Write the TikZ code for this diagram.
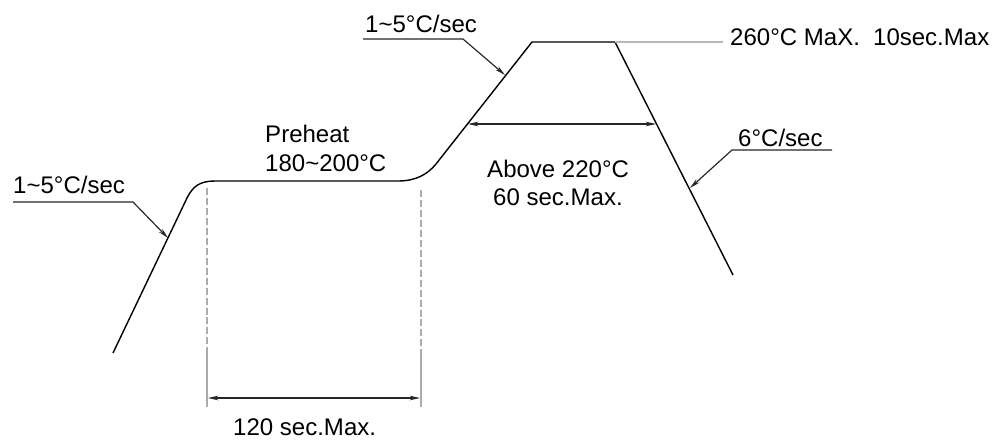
\documentclass[tikz,border=0pt]{standalone}
\usepackage{fontspec}
\setmainfont{Liberation Sans}
\usetikzlibrary{arrows.meta}

\begin{document}
\begin{tikzpicture}[x=0.03cm,y=0.03cm]
            \tikzstyle{every node}+=[inner sep=0pt, font=\fontsize{20.5}{24}\selectfont]
            \tikzstyle{lbl}=[anchor=base west]
            \tikzstyle{profile}=[black, line width=1.2pt]
            \tikzstyle{leader}=[black!85, line width=1pt, -{Stealth[length=9pt,width=4pt]}]
            \tikzstyle{dimline}=[black!85, line width=1pt, {Stealth[length=9pt,width=4pt]}-{Stealth[length=9pt,width=4pt]}]
            \tikzstyle{extline}=[gray!65, line width=1.3pt]
            \useasboundingbox (0,0) rectangle (1001,-441);
            \coordinate (rise0) at (113,-353);
            \coordinate (rise1) at (187,-198);
            \coordinate (soak0) at (215,-181);
            \coordinate (soak1) at (398,-181);
            \coordinate (ramp0) at (436,-164);
            \coordinate (peak0) at (532,-42);
            \coordinate (peak1) at (615,-42);
            \coordinate (cool1) at (733,-275);
            \draw [profile] (rise0) -- (rise1) .. controls (193,-186) and (200,-181) .. (soak0) -- (soak1)
                .. controls (415,-181) and (427,-175) .. (ramp0) -- (peak0) -- (peak1) -- (cool1);
            \coordinate (ext1top) at (207,-188);
            \coordinate (ext1mid) at (207,-354);
            \coordinate (ext1bot) at (207,-407);
            \coordinate (ext2top) at (421,-190);
            \coordinate (ext2mid) at (421,-354);
            \coordinate (ext2bot) at (421,-407);
            \draw [extline, dash pattern=on 6pt off 2.5pt] (ext1top) -- (ext1mid);
            \draw [extline] (ext1mid) -- (ext1bot);
            \draw [extline, dash pattern=on 6pt off 2.5pt] (ext2top) -- (ext2mid);
            \draw [extline] (ext2mid) -- (ext2bot);
            \coordinate (soakL) at (208,-398);
            \coordinate (soakR) at (420,-398);
            \draw [dimline] (soakL) -- (soakR);
            \node [lbl] (soaktime) at (233,-435) {120 sec.Max.};
            \coordinate (liqL) at (468,-124);
            \coordinate (liqR) at (656,-124);
            \draw [dimline] (liqL) -- (liqR);
            \node [lbl] (liq) at (487,-177) {Above 220°C};
            \node [lbl] (liqtime) at (493,-205) {60 sec.Max.};
            \node [lbl] (pre) at (265,-142) {Preheat};
            \node [lbl] (pretemp) at (265,-171) {180\char`\~200°C};
            \node [lbl] (slope1) at (13,-193) {1\char`\~5°C/sec};
            \coordinate (sl1a) at (13,-202);
            \coordinate (sl1b) at (133,-202);
            \coordinate (sl1tip) at (168,-238);
            \draw [leader] (sl1a) -- (sl1b) -- (sl1tip);
            \node [lbl] (slope2) at (365,-32) {1\char`\~5°C/sec};
            \coordinate (sl2a) at (363,-39);
            \coordinate (sl2b) at (463,-39);
            \coordinate (sl2tip) at (505,-75);
            \draw [leader] (sl2a) -- (sl2b) -- (sl2tip);
            \node [lbl] (slope3) at (738,-146) {6°C/sec};
            \coordinate (sl3a) at (832,-150);
            \coordinate (sl3b) at (732,-150);
            \coordinate (sl3tip) at (690,-188);
            \draw [leader] (sl3a) -- (sl3b) -- (sl3tip);
            \coordinate (peakend) at (723,-42);
            \draw [gray!55, line width=1.6pt] (peak1) -- (peakend);
            \node [lbl] (peaklbl) at (730,-45) {260°C MaX.\hspace{0.55em}10sec.Max};
\end{tikzpicture}
\end{document}
